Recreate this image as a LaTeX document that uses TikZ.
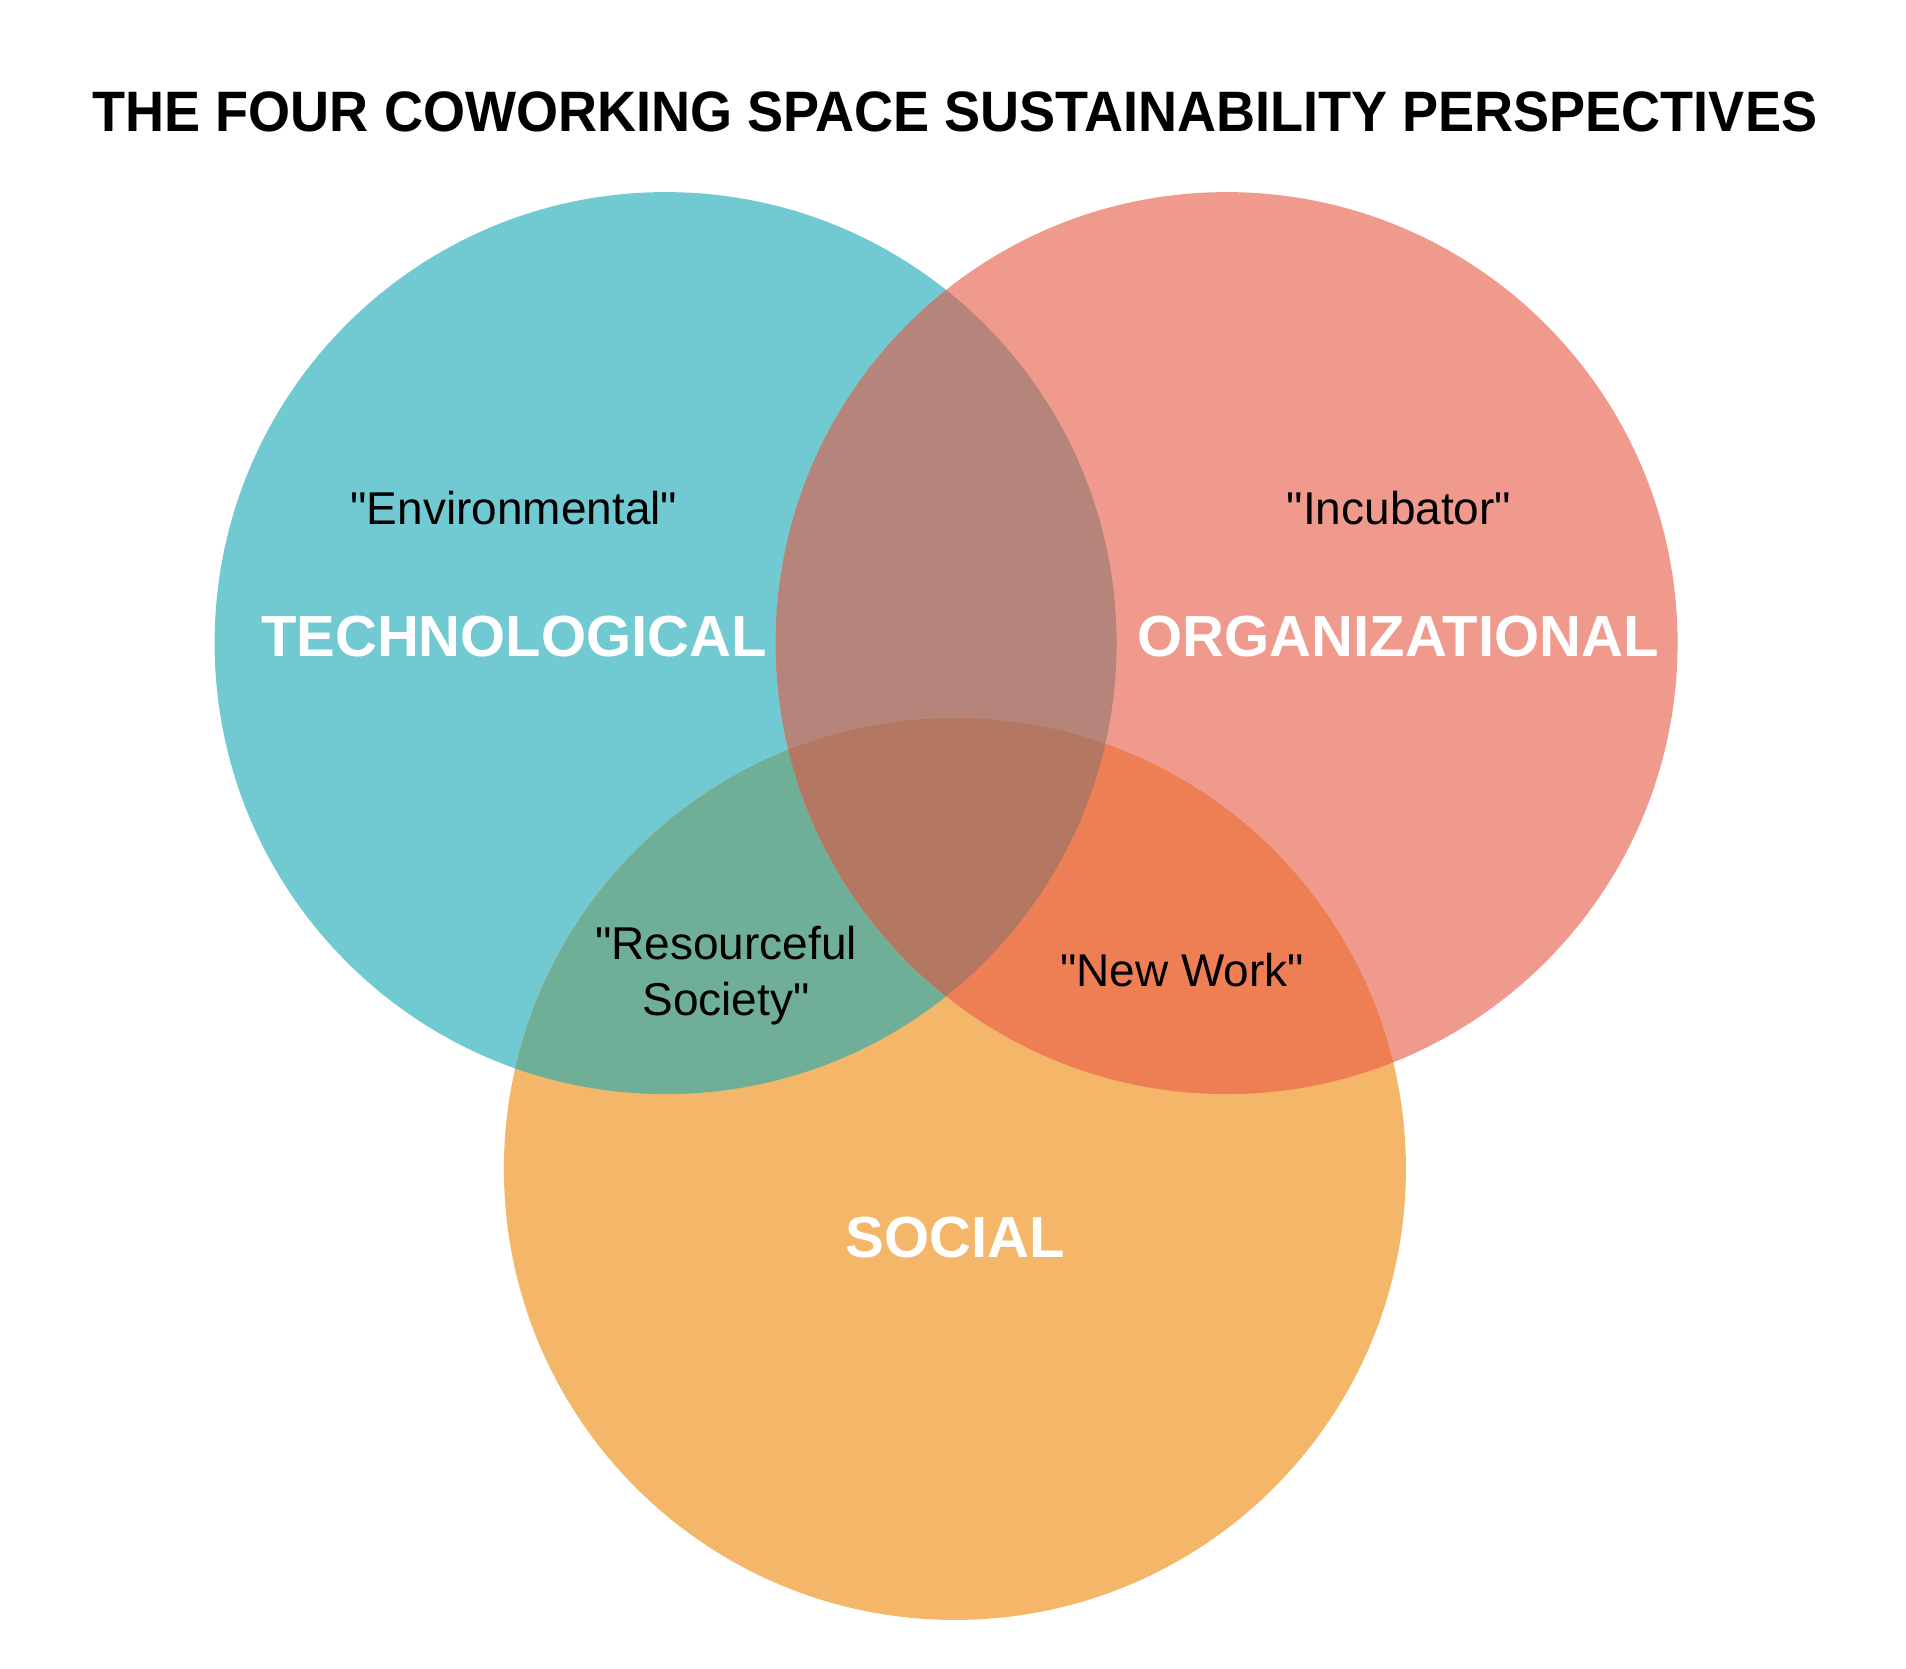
\documentclass[tikz,border=0pt]{standalone}
\usepackage{fontspec}
\setmainfont{Liberation Sans}
\definecolor{cteal}{HTML}{71CAD2}
\definecolor{cpink}{HTML}{F09A8D}
\definecolor{corange}{HTML}{F4B668}
\definecolor{ctp}{HTML}{B5857C}
\definecolor{cto}{HTML}{70AF97}
\definecolor{cpo}{HTML}{EE7F55}
\definecolor{call}{HTML}{B47762}
\newcommand{\qq}{\textquotedbl}
\tikzset{
  quote/.style={font=\fontsize{46}{55}\selectfont, text=black, inner sep=0pt, anchor=base},
  head/.style={font=\fontsize{58}{66}\selectfont\bfseries, text=white, inner sep=0pt, anchor=base},
}
\begin{document}
\begin{tikzpicture}[x=1pt,y=-1pt]
\useasboundingbox (0,0) rectangle (1906,1668);
\fill[white] (0,0) rectangle (1906,1668);
\def\tealpath{(665.6,643.1) circle[radius=451pt]}
\def\pinkpath{(1226.6,643.1) circle[radius=451pt]}
\def\orangepath{(954.9,1168.9) circle[radius=451pt]}
\fill[cteal] \tealpath;
\fill[cpink] \pinkpath;
\fill[corange] \orangepath;
\begin{scope}
  \clip \tealpath;
  \fill[ctp] \pinkpath;
  \fill[cto] \orangepath;
\end{scope}
\begin{scope}
  \clip \pinkpath;
  \fill[cpo] \orangepath;
  \clip \orangepath;
  \fill[call] \tealpath;
\end{scope}
\node[font=\fontsize{57}{66}\selectfont\bfseries, inner sep=0pt, anchor=base, xscale=0.948] (title) at (955,131) {THE FOUR COWORKING SPACE SUSTAINABILITY PERSPECTIVES};
\node[quote] (env) at (514,524) {\qq Environmental\qq};
\node[quote] (inc) at (1399,524) {\qq Incubator\qq};
\node[head] (tech) at (514,656) {TECHNOLOGICAL};
\node[head] (org) at (1398,656) {ORGANIZATIONAL};
\node[quote] (res1) at (726,959) {\qq Resourceful};
\node[quote] (res2) at (726,1015) {Society\qq};
\node[quote] (nw) at (1182,986) {\qq New Work\qq};
\node[head] (soc) at (955,1257) {SOCIAL};
\end{tikzpicture}
\end{document}
